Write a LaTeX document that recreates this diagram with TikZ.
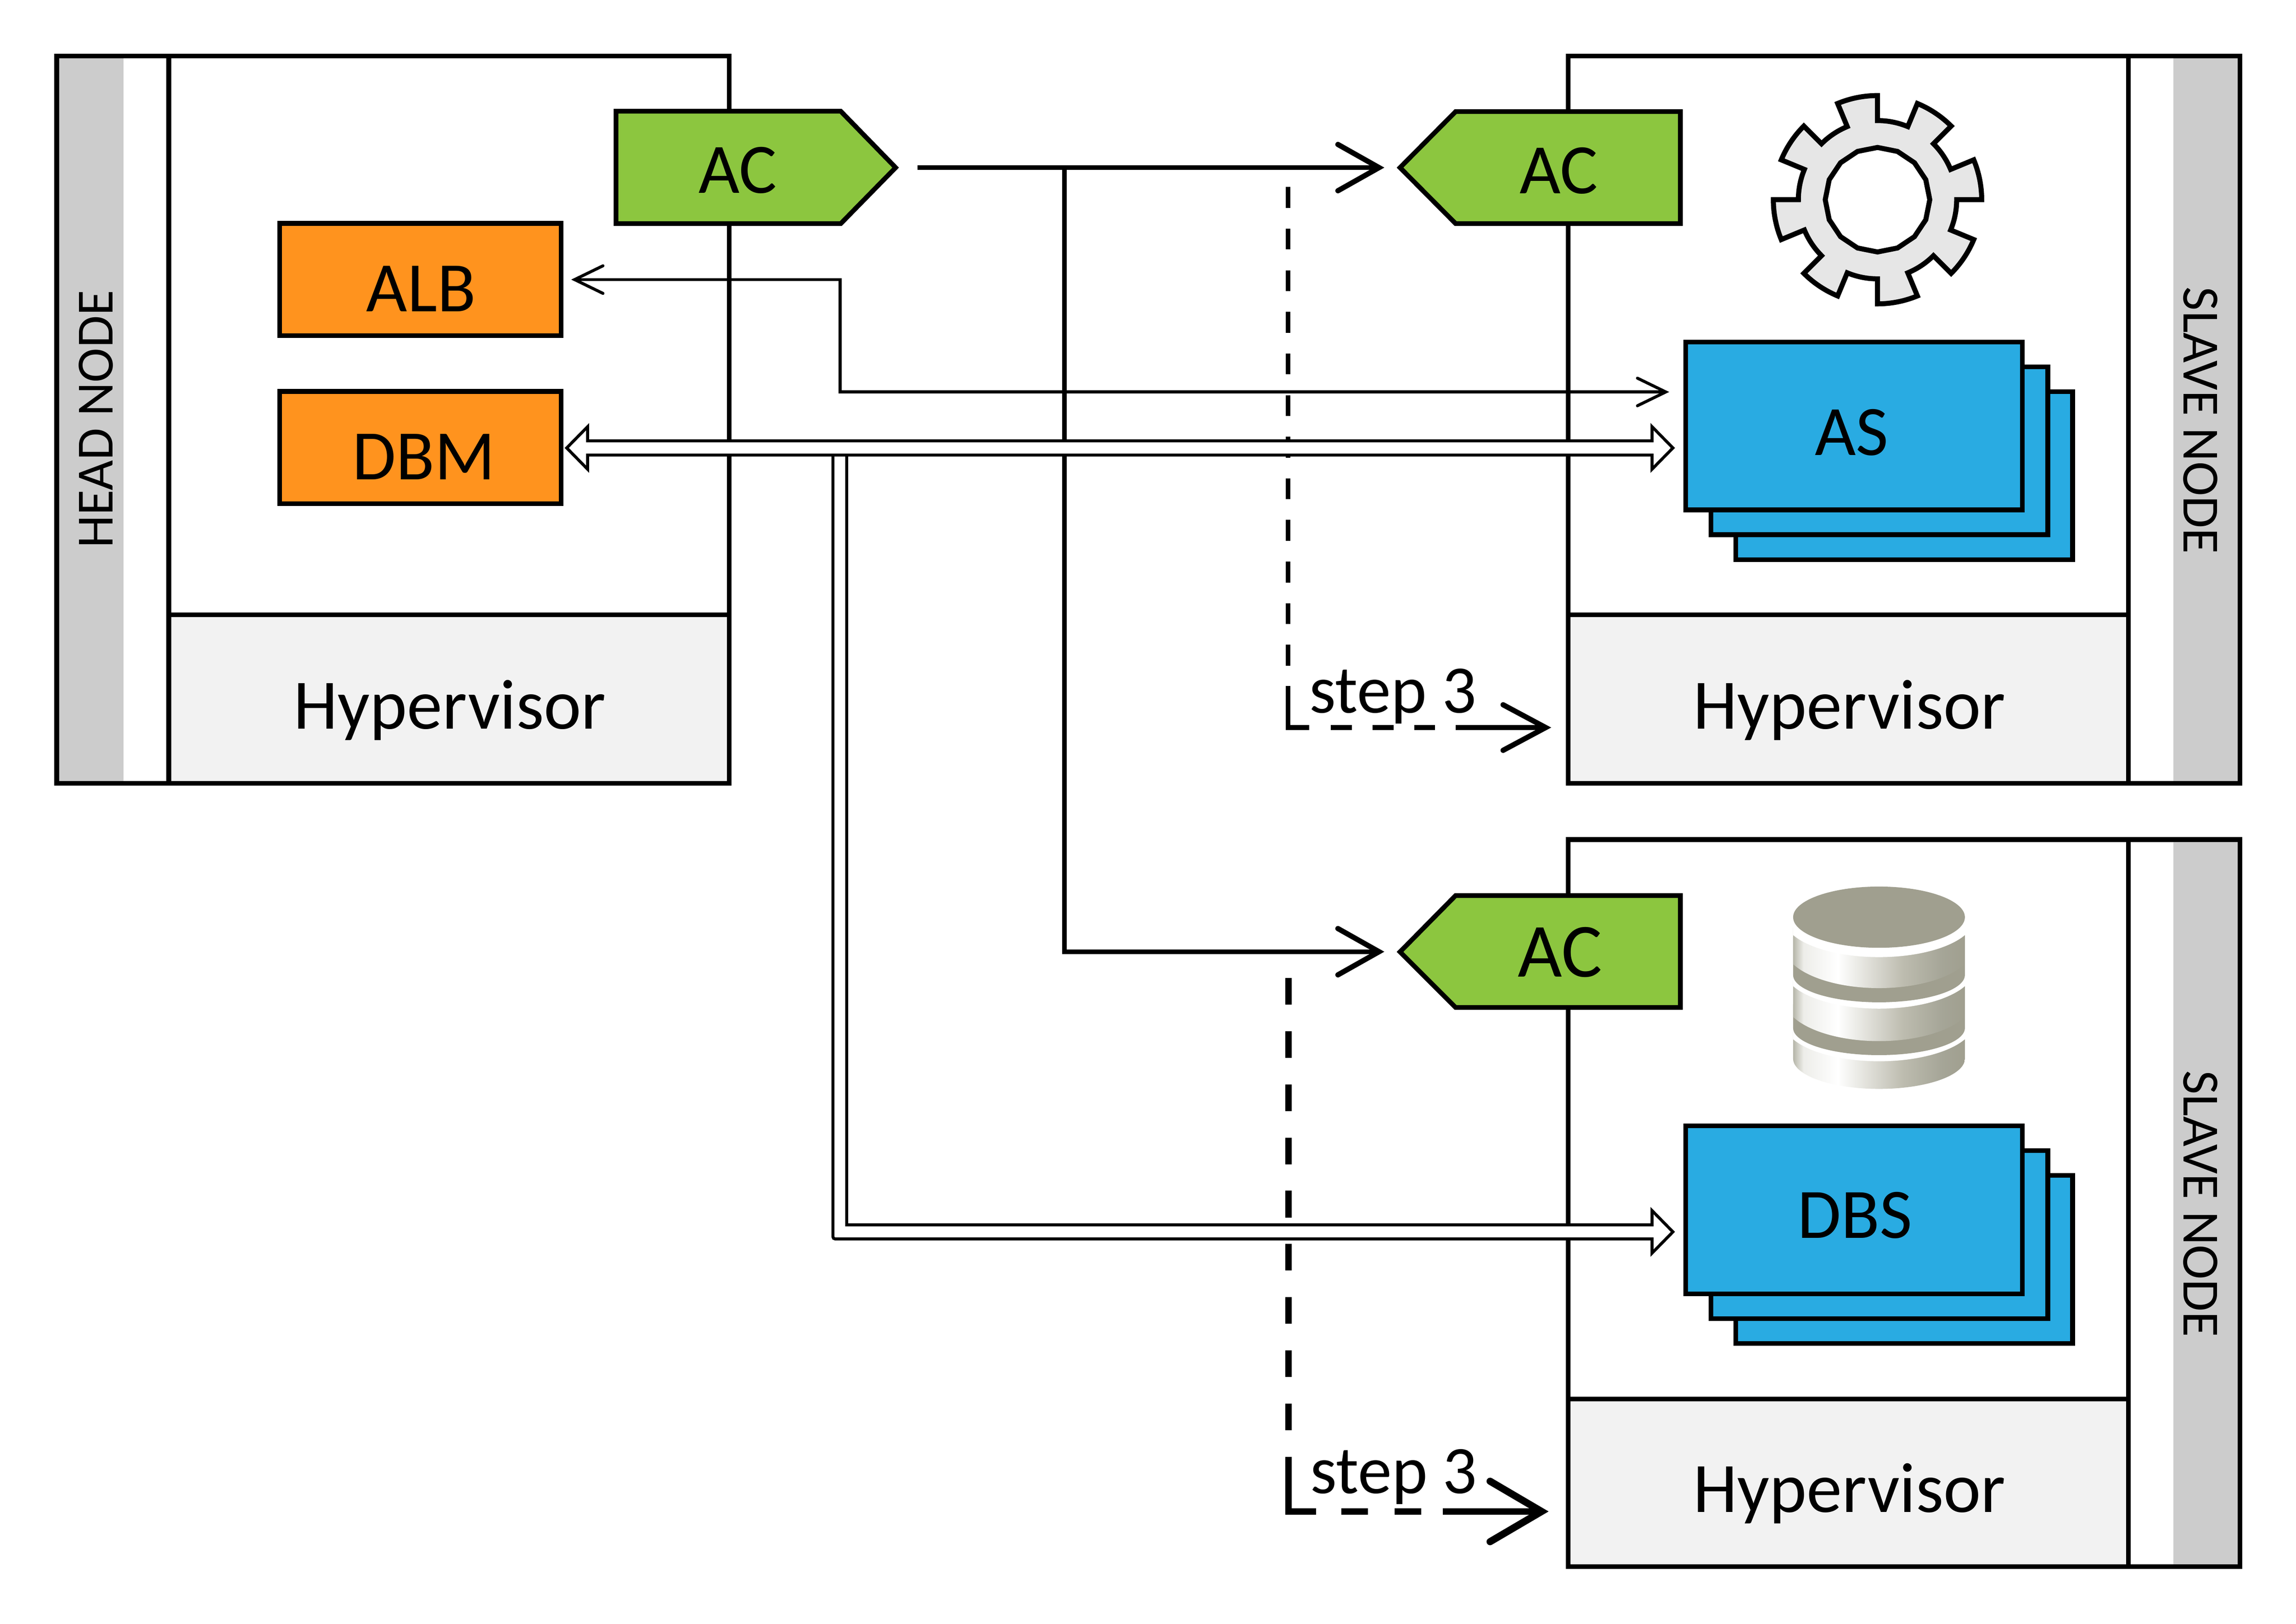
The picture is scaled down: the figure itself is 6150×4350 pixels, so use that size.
\documentclass[tikz,border=0pt]{standalone}
\usepackage{fontspec}
\setmainfont{Carlito}
\usetikzlibrary{arrows.meta,calc}
\definecolor{acgreen}{HTML}{8CC63F}
\definecolor{lborange}{HTML}{FF931E}
\definecolor{stackblue}{HTML}{29ABE2}
\definecolor{bandgrey}{HTML}{CCCCCC}
\definecolor{hypergrey}{HTML}{F2F2F2}
\definecolor{geargrey}{HTML}{E6E6E6}
\definecolor{dbdark}{HTML}{A09F8F}
\definecolor{dbedge}{HTML}{B5B5A8}
\definecolor{dbpale}{HTML}{EDEDE9}
\definecolor{dbmid}{HTML}{BDBCAF}
\definecolor{dblow}{HTML}{A5A597}
\pgfdeclarehorizontalshading{dbsteel}{100bp}{color(0bp)=(dbedge); color(25bp)=(dbedge); color(28bp)=(dbpale); color(38bp)=(white); color(43bp)=(dbpale); color(57bp)=(dbmid); color(68.5bp)=(dblow); color(75bp)=(dbdark); color(100bp)=(dbdark)}
\newcommand{\fnt}[1]{\fontsize{#1}{#1}\selectfont}
\tikzset{
  outline/.style={draw=black,line width=1.27pt},
  txt/.style={anchor=base,inner sep=0pt,outer sep=0pt,text=black,font=\fnt{19}},
  sidetxt/.style={anchor=base,inner sep=0pt,outer sep=0pt,text=black,font=\fnt{14}},
  steptxt/.style={anchor=base,inner sep=0pt,outer sep=0pt,text=black,font=\fnt{18.2}},
  orangebox/.style={outline,fill=lborange,minimum width=75.4pt,minimum height=30.1pt,inner sep=0pt,outer sep=0pt},
  stackbox/.style={outline,fill=stackblue,minimum width=90.2pt,minimum height=45pt,inner sep=0pt,outer sep=0pt},
  solidarrow/.style={line width=1.27pt,-{Straight Barb[length=11pt,width=12.4pt,line width=1.4pt,line cap=round]}},
  thinarrow/.style={line width=0.8pt,-{Straight Barb[length=7.6pt,width=7.4pt,line width=0.8pt,line cap=round]}},
  thinboth/.style={line width=0.8pt,{Straight Barb[length=7.6pt,width=7.4pt,line width=0.8pt,line cap=round]}-{Straight Barb[length=7.6pt,width=7.4pt,line width=0.8pt,line cap=round]}},
  dblline/.style={draw=black,fill=white,line width=0.8pt,miter limit=10},
  dashA/.style={line width=1.27pt,dash pattern=on 5.6pt off 5.55pt},
  dashB/.style={line width=1.75pt,dash pattern=on 7.15pt off 7.1pt},
  bigtip/.style={line width=1.75pt,-{Straight Barb[length=13.8pt,width=16.2pt,line width=1.9pt,line cap=round]}},
  midtip/.style={line width=1.27pt,-{Straight Barb[length=11.4pt,width=12.2pt,line width=1.4pt,line cap=round]}},
  gearline/.style={draw=black,line width=1.35pt,miter limit=10},
}
\begin{document}
\begin{tikzpicture}[x=0.1pt,y=-0.1pt]
\useasboundingbox (0,0) rectangle (6150,4350);
\fill[white] (0,0) rectangle (6150,4350);

% head node
\fill[bandgrey] (152,150) rectangle (331,2098);
\fill[hypergrey] (452,1647) rectangle (1953,2098);
\draw[outline] (152,150) rectangle (1953,2098);
\draw[outline] (452,150) -- (452,2098);
\draw[outline] (452,1647) -- (1953,1647);
\node[sidetxt,rotate=90] (headlabel) at (302,1123) {HEAD NODE};
\node[txt] (hyper1) at (1205,1952) {Hypervisor};

% slave node 1
\fill[bandgrey] (5821,150) rectangle (6000,2098);
\fill[hypergrey] (4200,1647) rectangle (5701,2098);
\draw[outline] (4200,150) rectangle (6000,2098);
\draw[outline] (5701,150) -- (5701,2098);
\draw[outline] (4200,1647) -- (5701,1647);
\node[sidetxt,rotate=-90] (slave1label) at (5849,1126) {SLAVE NODE};
\node[txt] (hyper2) at (4954,1952) {Hypervisor};

% slave node 2
\fill[bandgrey] (5821,2249) rectangle (6000,4197);
\fill[hypergrey] (4200,3748) rectangle (5701,4197);
\draw[outline] (4200,2249) rectangle (6000,4197);
\draw[outline] (5701,2249) -- (5701,4197);
\draw[outline] (4200,3748) -- (5701,3748);
\node[sidetxt,rotate=-90] (slave2label) at (5849,3225) {SLAVE NODE};
\node[txt] (hyper3) at (4954,4051) {Hypervisor};

% AC tags
\draw[outline,fill=acgreen] (1650,298) -- (2252,298) -- (2399,449) -- (2252,599) -- (1650,599) -- cycle;
\node[txt] (ac1) at (1976,517) {AC};
\draw[outline,fill=acgreen] (4501,299) -- (3899,299) -- (3750,449) -- (3899,599) -- (4501,599) -- cycle;
\node[txt] (ac2) at (4175,519) {AC};
\draw[outline,fill=acgreen] (4501,2399) -- (3899,2399) -- (3750,2550) -- (3899,2699) -- (4501,2699) -- cycle;
\node[txt,font=\fnt{20.5}] (ac3) at (4179,2617) {AC};

% orange boxes
\node[orangebox] (alb) at (1126,749) {};
\node[orangebox] (dbm) at (1126,1199) {};
\node[txt] at (1128,835) {ALB};
\node[txt] at (1135,1285) {DBM};

% stacks
\node[stackbox] (as3) at (5100.5,1274) {};
\node[stackbox] (as2) at (5034,1207.5) {};
\node[stackbox] (as1) at (4966,1141) {};
\node[txt] at (4960,1219) {AS};
\node[stackbox] (dbs3) at (5100.5,3374) {};
\node[stackbox] (dbs2) at (5034,3307.5) {};
\node[stackbox] (dbs1) at (4966,3241) {};
\node[txt] at (4969,3317) {DBS};

% gear
\begin{scope}[shift={(5029,535)},yscale=-1]
\draw[gearline,fill=geargrey] (0:212)
  \foreach \k in {0,45,...,315} {
    -- (\k:279) arc[start angle=\k,end angle=\k+22.5,radius=279]
    -- (\k+22.5:212) arc[start angle=\k+22.5,end angle=\k+45,radius=212]
  } -- cycle;
\draw[gearline,fill=white] (0:140)
  \foreach \k in {22.5,45,...,337.5} { -- (\k:140) } -- cycle;
\end{scope}

% database
\begin{scope}
\clip (4803,2300) rectangle (5263,3000);
\shade[shading=dbsteel] (4803,2760) -- (5263,2760) -- (5263,2836) arc[start angle=0,end angle=180,x radius=230,y radius=81] -- cycle;
\fill[white] (5033,2739) ellipse[x radius=255,y radius=104];
\fill[dbdark] (4803,2690) -- (5263,2690) -- (5263,2754) arc[start angle=0,end angle=180,x radius=230,y radius=72.5] -- cycle;
\begin{scope}
\clip (5033,2675) ellipse[x radius=255,y radius=114];
\shade[shading=dbsteel] (4803,2550) rectangle (5263,2800);
\end{scope}
\fill[white] (5033,2596) ellipse[x radius=255,y radius=106];
\fill[dbdark] (4803,2510) -- (5263,2510) -- (5263,2612) arc[start angle=0,end angle=180,x radius=230,y radius=73] -- cycle;
\begin{scope}
\clip (5033,2534) ellipse[x radius=255,y radius=113];
\shade[shading=dbsteel] (4803,2410) rectangle (5263,2660);
\end{scope}
\fill[white] (5033,2460) ellipse[x radius=255,y radius=104];
\fill[dbdark] (5033,2457) ellipse[x radius=230,y radius=82];
\end{scope}

% AC connectors
\coordinate (acout) at (2458,449);
\coordinate (acbranch) at (2851,449);
\coordinate (acin2) at (3708,449);
\coordinate (acin3) at (3708,2549.5);
\draw[solidarrow] (acout) -- (acin2);
\draw[solidarrow] (acbranch) -- (acbranch |- acin3) -- (acin3);

% step 3 dashed connectors
\coordinate (d1top) at (3450,501);
\coordinate (d1corner) at (3450,1949);
\coordinate (d1end) at (4155,1949);
\draw[dashA] (d1top) -- (3450,1838);
\draw[line width=1.27pt,miter limit=10] (3450,1838) -- (d1corner) -- (3507,1949);
\draw[dashA] (3565,1949) -- (3910,1949);
\draw[midtip] (3910,1949) -- (d1end);
\node[steptxt] (step1) at (3731,1910) {step 3};

\coordinate (d2top) at (3451,2620);
\coordinate (d2corner) at (3451,4049);
\coordinate (d2end) at (4148,4049);
\draw[dashB] (d2top) -- (3451,3904);
\draw[line width=1.75pt,miter limit=10] (3451,3904) -- (d2corner) -- (3525,4049);
\draw[dashB] (3593,4049) -- (3864,4049);
\draw[bigtip] (3864,4049) -- (d2end);
\node[steptxt] (step2) at (3733,4001) {step 3};

% ALB -- AS thin connector
\coordinate (albin) at (1530,749);
\coordinate (asin) at (4471,1050);
\draw[thinboth] (albin) -- (2250,749) -- (2250,1050) -- (asin);

% double-line connectors
\coordinate (dblL) at (1518,1200);
\coordinate (dblR) at (4481,1200);
\coordinate (dblD) at (4481,3300);
\draw[dblline] (2231,1219) [rounded corners=0.6pt] -- (2231,3319) [sharp corners] -- (4425,3319) -- (4425,3357) -- (dblD) -- (4425,3243) -- (4425,3281) -- (2268,3281) -- (2268,1219);
\draw[dblline] (dblL) -- (1574,1143) -- (1574,1181) -- (4425,1181) -- (4425,1143) -- (dblR) -- (4425,1257) -- (4425,1219) -- (1574,1219) -- (1574,1257) -- cycle;
\end{tikzpicture}
\end{document}
